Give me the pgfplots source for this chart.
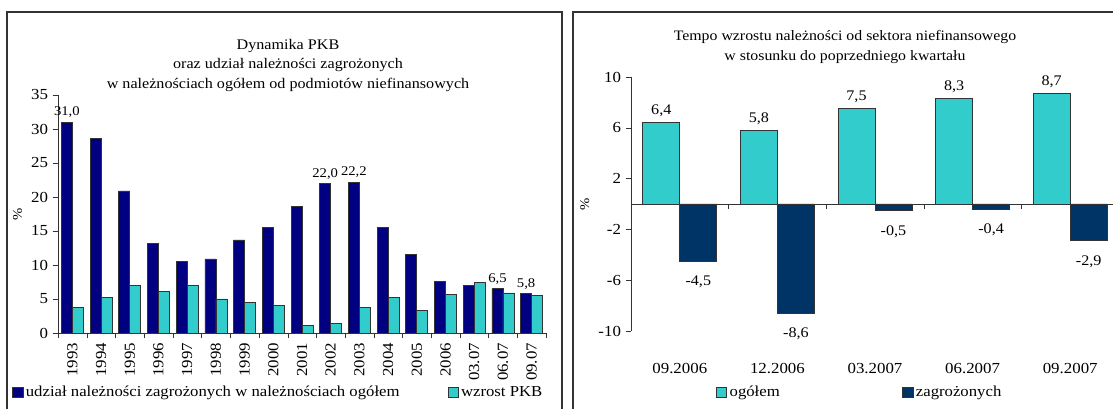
\documentclass[border=0pt]{standalone}
\usepackage{fontspec}
\setmainfont{Liberation Serif}[FakeStretch=1.1]
\usepackage{pgfplots}
\pgfplotsset{compat=1.18}
\definecolor{navyL}{RGB}{0,0,128}
\definecolor{navyR}{RGB}{0,51,102}
\definecolor{cyanB}{RGB}{51,204,204}
\begin{document}
\begin{tikzpicture}
\useasboundingbox (0,0) rectangle (834.75pt,306.75pt);
% frames
\draw[line width=1.5pt, black!80] (5.25pt,-5pt) -- (5.25pt,298pt) -- (421.5pt,298pt) -- (421.5pt,-5pt);
\draw[line width=1.5pt, black!80] (429.75pt,-5pt) -- (429.75pt,297.75pt) -- (845pt,297.75pt);
% titles
\node[align=center, font=\fontsize{11}{14.6}\selectfont] at (216pt,257.8pt)
  {Dynamika PKB\\oraz udział należności zagrożonych\\w należnościach ogółem od podmiotów niefinansowych};
\node[align=center, font=\fontsize{10.8}{14.8}\selectfont] at (633.75pt,271.5pt)
  {Tempo wzrostu należności od sektora niefinansowego\\w stosunku do poprzedniego kwartału};

\begin{axis}[
  at={(43.5pt,57pt)}, anchor=south west,
  width=366pt, height=178.5pt, scale only axis,
  xmin=-0.5, xmax=16.5, ymin=0, ymax=35,
  axis x line=bottom, axis y line=left,
  axis line style={-, draw=black!80},
  ybar=0pt, bar width=8.25pt,
  xtick={0,...,16},
  xticklabels={1993,1994,1995,1996,1997,1998,1999,2000,2001,2002,2003,2004,2005,2006,03.07,06.07,09.07},
  major x tick style={draw=none},
  minor xtick={-0.5,0.5,...,16.5},
  ytick={0,5,...,35},
  tick align=outside, major tick length=4pt, minor tick length=4pt,
  tick style={black!80},
  xticklabel style={rotate=90, anchor=east},
  tick label style={font=\fontsize{11.5}{13}\selectfont},
  /pgf/number format/assume math mode=true,
  ylabel={\%}, ylabel style={font=\fontsize{10}{12}\selectfont},
  legend image code/.code={\draw[#1] (0pt,-3.8pt) rectangle (7.6pt,3.8pt);},
  legend style={draw=none, fill=none, at={(-0.094,-0.25)}, anchor=west,
    inner sep=0pt, legend columns=2, font=\fontsize{11.4}{13}\selectfont,
    /tikz/every even column/.append style={column sep=34pt}},
  legend cell align=left,
]
\addplot[fill=navyL, draw=black!80, line width=0.5pt,
  nodes near coords, point meta=explicit symbolic,
  nodes near coords style={font=\fontsize{10}{12}\selectfont, inner sep=3pt}]
  coordinates {(0,31.0)[31,0] (1,28.6)[] (2,20.9)[] (3,13.2)[] (4,10.5)[] (5,10.9)[]
   (6,13.7)[] (7,15.5)[] (8,18.6)[] (9,22.0)[22,0] (10,22.2)[22,2] (11,15.5)[]
   (12,11.6)[] (13,7.6)[] (14,7.0)[] (15,6.5)[6,5] (16,5.8)[5,8]};
\addplot[fill=cyanB, draw=black!80, line width=0.5pt]
  coordinates {(0,3.8) (1,5.2) (2,7.0) (3,6.1) (4,7.0) (5,5.0) (6,4.5) (7,4.1)
   (8,1.1) (9,1.4) (10,3.8) (11,5.2) (12,3.3) (13,5.7) (14,7.4) (15,5.9) (16,5.5)};
\legend{udział należności zagrożonych w należnościach ogółem, wzrost PKB}
\end{axis}

\begin{axis}[
  at={(473.25pt,58.5pt)}, anchor=south west,
  width=366pt, height=190.5pt, scale only axis,
  xmin=-0.5, xmax=4.5, ymin=-10, ymax=10,
  axis x line=middle, axis y line=left,
  axis line style={-, draw=black!80},
  ybar=0pt, bar width=27.75pt,
  xtick={0,...,4},
  xticklabels={09.2006,12.2006,03.2007,06.2007,09.2007},
  major x tick style={draw=none},
  minor xtick={0.5,1.5,2.5,3.5,4.5},
  ytick={-10,-6,-2,2,6,10}, yticklabels={-10,-6,-2,2,6,10},
  tick align=outside, major tick length=4pt, minor tick length=4pt,
  tick style={black!80},
  tick label style={font=\fontsize{11.5}{13}\selectfont},
  xticklabel style={yshift=-112pt},
  ylabel={\%}, ylabel style={font=\fontsize{10}{12}\selectfont},
  legend image code/.code={\draw[#1] (0pt,-3.8pt) rectangle (7.6pt,3.8pt);},
  legend style={draw=none, fill=none, at={(0.174,-0.24)}, anchor=west,
    inner sep=0pt, legend columns=2, font=\fontsize{11.4}{13}\selectfont,
    /tikz/every even column/.append style={column sep=90pt}},
  legend cell align=left,
]
\addplot[fill=cyanB, draw=black!80, line width=0.5pt,
  nodes near coords, point meta=explicit symbolic,
  nodes near coords style={font=\fontsize{11}{12}\selectfont, anchor=south, inner sep=4pt}]
  coordinates {(0,6.4)[6,4] (1,5.8)[5,8] (2,7.5)[7,5] (3,8.3)[8,3] (4,8.7)[8,7]};
\addplot[fill=navyR, draw=black!80, line width=0.5pt,
  nodes near coords, point meta=explicit symbolic,
  nodes near coords style={font=\fontsize{11}{12}\selectfont, anchor=north, inner sep=4pt, yshift=-7pt}]
  coordinates {(0,-4.5)[-4,5] (1,-8.6)[-8,6] (2,-0.5)[-0,5] (3,-0.4)[-0,4] (4,-2.9)[-2,9]};
\legend{ogółem, zagrożonych}
\end{axis}
\end{tikzpicture}
\end{document}
